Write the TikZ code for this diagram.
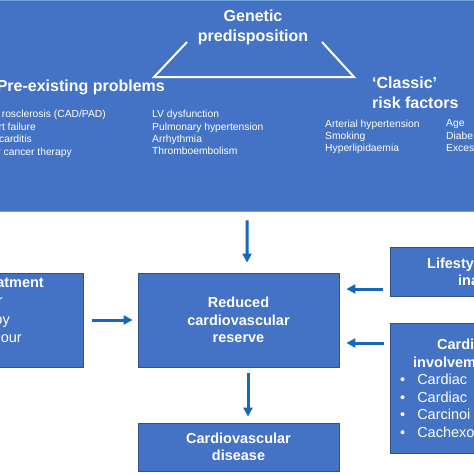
\documentclass[tikz,border=0pt]{standalone}
\usepackage{fontspec}
\setmainfont{Liberation Sans}
\usetikzlibrary{arrows.meta,positioning}

\definecolor{bandblue}{RGB}{68,114,196}
\definecolor{boxline}{RGB}{47,82,143}
\definecolor{bandedge}{RGB}{110,165,220}
\definecolor{arrowblue}{RGB}{22,104,184}

\begin{document}
\begin{tikzpicture}[x=1pt,y=-1pt,>={Triangle[width=9pt,length=9pt]},
    box/.style={draw=boxline,line width=0.8pt,fill=bandblue,text=white,align=center,inner sep=0pt,
        font=\bfseries\fontsize{14.5}{17.5}\selectfont},
    head/.style={text=white,inner sep=0pt,font=\bfseries\fontsize{16}{20}\selectfont},
    bold/.style={text=white,inner sep=0pt,font=\bfseries\fontsize{14.5}{17.5}\selectfont},
    item/.style={text=white,inner sep=0pt,font=\fontsize{14.5}{17.5}\selectfont},
    small/.style={text=white,inner sep=0pt,align=left,font=\fontsize{10.3}{12.4}\selectfont},
    tri/.style={draw=white,line width=2pt,line join=miter},
    flow/.style={->,draw=arrowblue,fill=arrowblue,line width=3pt}]

            \clip (0,0) rectangle (474,474);
            \fill[white] (0,0) rectangle (474,474);

            % upper panel
            \node (band) [fill=bandblue,inner sep=0pt,minimum width=474pt,minimum height=211pt,anchor=north west] at (0,0) {};
            \draw[bandedge,line width=1.2pt] (band.north west) -- (band.north east);
            \draw[bandedge,line width=1.2pt] (band.south west) -- (band.south east);

            \node (genetic) [head,align=center] at (253,27) {Genetic\\predisposition};
            \node (preexist) [head,anchor=east] at (165,87) {Pre-existing problems};
            \node (classic) [head,align=left,anchor=west] at (372,93) {‘Classic’\\risk factors};

            \coordinate (gl) at (187,42);
            \coordinate (bl) at (154,77);
            \coordinate (br) at (354,77);
            \coordinate (gr) at (322,42);
            \draw[tri] (gl) -- (bl) -- (br) -- (gr);

            \node (pre1) [small,anchor=base east] at (106,117.5) {rosclerosis (CAD/PAD)};
            \node (pre2) [small,anchor=base east] at (36,130) {rt failure};
            \node (pre3) [small,anchor=base east] at (32,142.5) {carditis};
            \node (pre4) [small,anchor=base east] at (72,155) {r cancer therapy};
            \node (pre5) [small,anchor=north west] at (152,110) {LV dysfunction\\Pulmonary hypertension\\Arrhythmia\\Thromboembolism};
            \node (risk1) [small,anchor=north west] at (325,119.5) {Arterial hypertension\\Smoking\\Hyperlipidaemia};
            \node (risk2) [small,anchor=north west] at (446,119.5) {Age\\Diabe\\Exces};

            % lower boxes
            \node (reserve) [box,minimum width=201pt,minimum height=94pt] at (238.5,320) {Reduced\\cardiovascular\\reserve};
            \node (disease) [box,minimum width=201pt,minimum height=48pt] at (238.5,447) {Cardiovascular\\disease};
            \node (treatment) [box,minimum width=110pt,minimum height=94pt,anchor=east] at (84,320) {};
            \node (life) [box,minimum width=100pt,minimum height=49pt,anchor=west] at (390,271.5) {};
            \node (involve) [box,minimum width=100pt,minimum height=130pt,anchor=west] at (390,388) {};

            \node (treat1) [bold,anchor=base east] at (44,287) {atment};
            \node (treat2) [item,anchor=base east] at (3,305.5) {r};
            \node (treat3) [item,anchor=base east] at (10,324) {py};
            \node (treat4) [item,anchor=base east] at (22,342.5) {our};

            \node (life1) [bold,anchor=base west] at (427,268) {Lifesty};
            \node (life2) [bold,anchor=base west] at (458,285) {ina};

            \node (inv1) [bold,anchor=base west] at (437,349) {Cardi};
            \node (inv2) [bold,anchor=base west] at (413,367) {involvem};
            \node (inv3) [item,anchor=base west] at (400,384) {•\hspace{12pt}Cardiac};
            \node (inv4) [item,anchor=base west] at (400,402) {•\hspace{12pt}Cardiac};
            \node (inv5) [item,anchor=base west] at (400,419.5) {•\hspace{12pt}Carcinoi};
            \node (inv6) [item,anchor=base west] at (400,437) {•\hspace{12pt}Cachexo};

            \path
                    ([xshift=10pt]band.south) edge[flow,shorten <=9pt,shorten >=10pt] ([xshift=8.5pt]reserve.north)
                    (treatment.east) edge[flow,shorten <=8pt,shorten >=5pt] (reserve.west)
                    ([yshift=-17.5pt]life.west) edge[flow,shorten <=7pt,shorten >=7pt] ([yshift=31pt]reserve.east)
                    ([yshift=45pt]involve.west) edge[flow,shorten <=6pt,shorten >=7pt] ([yshift=-23pt]reserve.east)
                    ([xshift=9.5pt]reserve.south) edge[flow,shorten <=6pt,shorten >=6pt] ([xshift=9.5pt]disease.north);

\end{tikzpicture}
\end{document}
